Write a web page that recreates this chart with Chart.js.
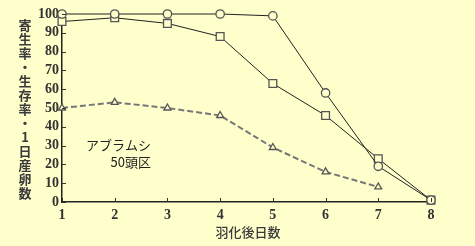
<!DOCTYPE html>
<html>
<head>
<meta charset="utf-8">
<script src="https://cdn.jsdelivr.net/npm/chart.js@4"></script>
<style>
  html, body { margin: 0; padding: 0; background: #ffffcc; }
  #wrap { width: 475px; height: 246px; }
</style>
</head>
<body>
<div id="wrap"><canvas id="chart" width="475" height="246"></canvas></div>
<script>
const days = [1, 2, 3, 4, 5, 6, 7, 8];
const circleSeries = [100, 100, 100, 100, 99, 58, 19, 1];
const squareSeries = [96, 98, 95, 88, 63, 46, 23, 1];
const triangleSeries = [50, 53, 50, 46, 29, 16, 8];

const yTitle = ['寄', '生', '率', '・', '生', '存', '率', '・', '1', '日', '産', '卵', '数'];
const xTitle = '羽化後日数';
const note = ['アブラムシ', '50頭区'];

const bg = '#ffffcc';
const serif = '"Liberation Serif", "DejaVu Serif", serif';
const jp = '"Noto Sans CJK JP", sans-serif';

function toPoints(values) {
    return values.map((v, i) => ({ x: days[i], y: v }));
}

// tick marks inside the axes, plus the stacked japanese texts
const extras = {
    id: 'extras',
    beforeDraw(chart) {
        const ctx = chart.ctx;
        ctx.save();
        ctx.fillStyle = bg;
        ctx.fillRect(0, 0, chart.width, chart.height);
        ctx.restore();
    },
    afterDraw(chart) {
        const ctx = chart.ctx;
        const xs = chart.scales.x, ys = chart.scales.y;
        const area = chart.chartArea;
        ctx.save();
        ctx.strokeStyle = '#333';
        ctx.lineWidth = 1;
        ctx.beginPath();
        for (let v = 0; v <= 100; v += 10) {
            const py = Math.round(ys.getPixelForValue(v)) + 0.5;
            ctx.moveTo(area.left, py);
            ctx.lineTo(area.left + 4, py);
        }
        days.forEach(d => {
            const px = Math.round(xs.getPixelForValue(d)) + 0.5;
            ctx.moveTo(px, area.bottom);
            ctx.lineTo(px, area.bottom - 4);
        });
        ctx.stroke();

        ctx.fillStyle = '#3a3a3a';
        ctx.textAlign = 'center';
        ctx.textBaseline = 'middle';
        ctx.font = 'bold 13px ' + jp;
        yTitle.forEach((ch, i) => {
            ctx.fillText(ch, 25, 25 + i * 14);
        });

        ctx.font = '500 13px ' + jp;
        ctx.fillText(xTitle, 248, 232);

        ctx.fillStyle = '#222';
        ctx.font = '13px ' + jp;
        ctx.textAlign = 'right';
        ctx.fillText(note[0], 151, 145);
        ctx.fillText(note[1], 151, 162);
        ctx.restore();
    }
};

const markerStyle = {
    pointBackgroundColor: bg,
    pointBorderColor: '#555',
    pointBorderWidth: 1.3,
    clip: false
};

new Chart(document.getElementById('chart'), {
    type: 'line',
    data: {
        datasets: [
            Object.assign({
                data: toPoints(circleSeries),
                borderColor: '#222',
                borderWidth: 1,
                pointStyle: 'circle',
                pointRadius: 4.2
            }, markerStyle),
            Object.assign({
                data: toPoints(squareSeries),
                borderColor: '#222',
                borderWidth: 1,
                pointStyle: 'rect',
                pointRadius: 5.5
            }, markerStyle),
            Object.assign({
                data: toPoints(triangleSeries),
                borderColor: '#777',
                borderWidth: 2,
                borderDash: [6, 3],
                pointStyle: 'triangle',
                pointRadius: 4
            }, markerStyle)
        ]
    },
    plugins: [extras],
    options: {
        responsive: false,
        animation: false,
        layout: { padding: { left: 0, top: 14, right: 44, bottom: 0 } },
        plugins: { legend: { display: false }, tooltip: { enabled: false } },
        scales: {
            x: {
                type: 'linear',
                min: 1,
                max: 8,
                afterFit: s => { s.height = 44; },
                grid: { display: false, drawTicks: false },
                border: { color: '#222', width: 1.5 },
                ticks: {
                    stepSize: 1,
                    autoSkip: false,
                    padding: 5,
                    color: '#333',
                    font: { family: serif, size: 14, weight: 'bold' }
                }
            },
            y: {
                min: 0,
                max: 100,
                afterFit: s => { s.width = 62; },
                grid: { display: false, drawTicks: false },
                border: { color: '#222', width: 1.5 },
                ticks: {
                    stepSize: 10,
                    autoSkip: false,
                    padding: 3,
                    color: '#333',
                    font: { family: serif, size: 14, weight: 'bold' }
                }
            }
        }
    }
});
</script>
</body>
</html>
